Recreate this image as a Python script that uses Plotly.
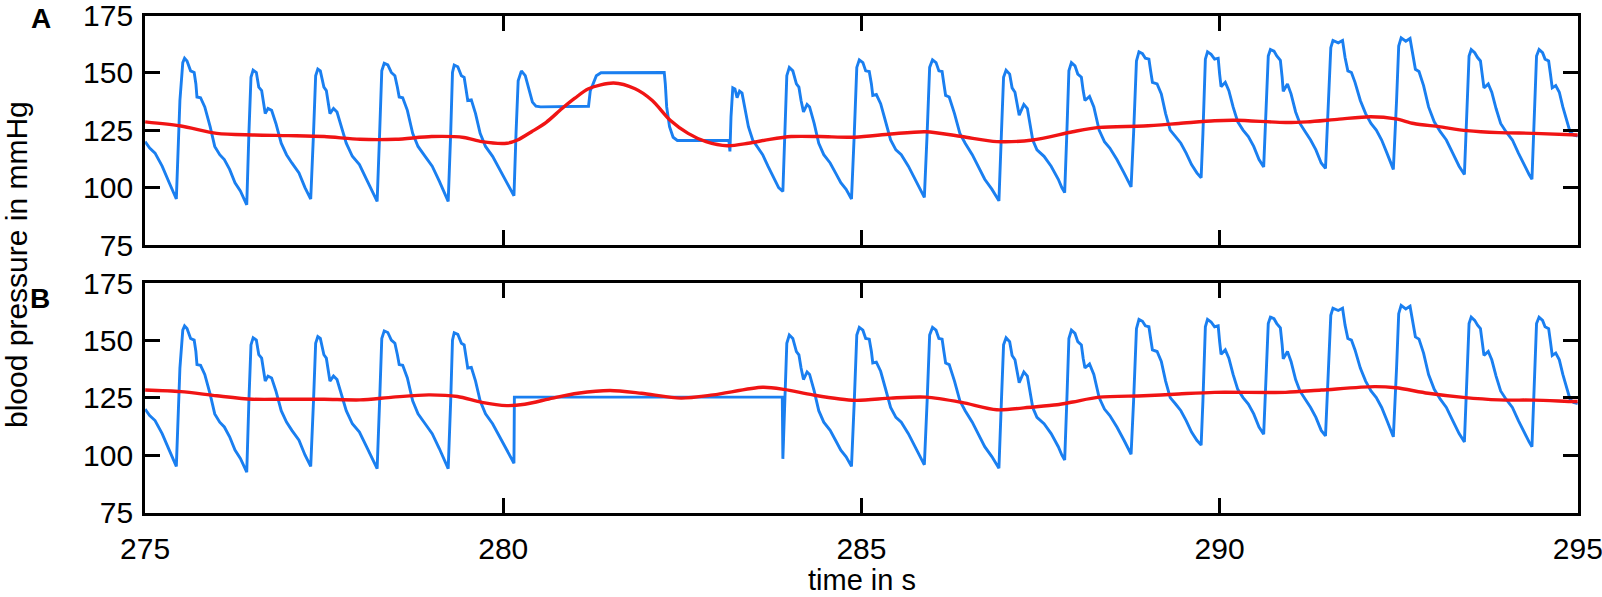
import plotly.graph_objects as go

# arterial pressure waveform, panel A (time in s, pressure in mmHg)
art_a = [
    (275.000, 120.1), (275.064, 117.3), (275.139, 115.1), (275.238, 109.4), (275.337, 102.2),
    (275.387, 98.6), (275.436, 95.1), (275.486, 138.0), (275.526, 154.5), (275.551, 156.4),
    (275.585, 155.2), (275.635, 150.9), (275.685, 150.2), (275.709, 145.2), (275.724, 139.5),
    (275.774, 139.2), (275.833, 135.2), (275.908, 126.6), (275.972, 118.0), (276.042, 114.4),
    (276.106, 112.3), (276.180, 108.0), (276.255, 102.2), (276.330, 98.6), (276.419, 92.6),
    (276.449, 123.7), (276.478, 148.1), (276.508, 151.2), (276.553, 150.2), (276.587, 143.8),
    (276.627, 142.3), (276.677, 132.3), (276.716, 134.5), (276.766, 133.7), (276.826, 128.0),
    (276.900, 119.4), (276.974, 114.4), (277.049, 110.8), (277.148, 106.5), (277.232, 100.1),
    (277.312, 95.1), (277.351, 123.7), (277.381, 148.8), (277.411, 151.7), (277.446, 150.9),
    (277.496, 143.8), (277.530, 142.3), (277.580, 132.3), (277.630, 134.5), (277.679, 133.0),
    (277.744, 126.6), (277.808, 119.4), (277.893, 113.7), (277.992, 110.1), (278.091, 103.7),
    (278.175, 98.6), (278.239, 94.1), (278.274, 123.7), (278.304, 150.9), (278.338, 154.2),
    (278.388, 153.5), (278.437, 150.2), (278.487, 148.8), (278.522, 143.8), (278.547, 139.5),
    (278.596, 139.2), (278.661, 133.7), (278.735, 123.7), (278.810, 118.0), (278.909, 113.7),
    (279.008, 109.4), (279.107, 102.9), (279.182, 97.9), (279.231, 94.1), (279.266, 123.7),
    (279.291, 150.2), (279.315, 153.4), (279.365, 152.7), (279.415, 148.8), (279.454, 148.1),
    (279.479, 143.1), (279.504, 138.0), (279.554, 138.3), (279.613, 132.3), (279.677, 123.7),
    (279.752, 118.0), (279.851, 113.7), (279.950, 108.0), (280.050, 102.2), (280.124, 97.9),
    (280.149, 96.5), (280.178, 123.7), (280.208, 146.6), (280.253, 150.9), (280.307, 148.8),
    (280.357, 143.1), (280.407, 137.3), (280.456, 135.5), (280.521, 135.2), (281.190, 135.5),
    (281.215, 142.3), (281.250, 144.9), (281.299, 148.8), (281.364, 150.1), (282.247, 150.2),
    (282.262, 145.2), (282.281, 135.2), (282.321, 126.6), (282.371, 122.0), (282.430, 120.6),
    (283.149, 120.6), (283.164, 115.8), (283.179, 130.9), (283.204, 143.5), (283.234, 143.0),
    (283.264, 139.2), (283.298, 142.1), (283.333, 141.2), (283.373, 134.5), (283.422, 126.6),
    (283.482, 120.8), (283.546, 118.0), (283.621, 114.4), (283.695, 109.4), (283.770, 104.4),
    (283.844, 100.1), (283.903, 98.4), (283.933, 123.7), (283.958, 148.8), (283.993, 152.4),
    (284.042, 150.9), (284.092, 145.2), (284.127, 143.8), (284.157, 138.0), (284.191, 133.0),
    (284.241, 136.3), (284.276, 135.2), (284.340, 128.0), (284.404, 119.4), (284.474, 114.4),
    (284.563, 110.8), (284.638, 106.5), (284.712, 102.2), (284.786, 99.3), (284.861, 95.1),
    (284.900, 123.7), (284.935, 152.4), (284.970, 155.7), (285.020, 154.5), (285.059, 150.9),
    (285.109, 150.6), (285.139, 145.2), (285.158, 140.2), (285.208, 140.6), (285.268, 136.6),
    (285.332, 129.4), (285.407, 120.8), (285.481, 116.5), (285.556, 114.4), (285.655, 109.4),
    (285.744, 103.7), (285.818, 99.3), (285.878, 95.8), (285.917, 123.7), (285.952, 152.4),
    (285.992, 155.7), (286.041, 154.5), (286.081, 150.9), (286.126, 150.6), (286.151, 145.2),
    (286.175, 140.2), (286.225, 139.5), (286.299, 132.3), (286.374, 123.7), (286.448, 119.4),
    (286.547, 114.4), (286.646, 108.0), (286.721, 103.7), (286.820, 99.4), (286.919, 94.3),
    (286.954, 123.7), (286.984, 148.1), (287.019, 151.2), (287.069, 149.5), (287.103, 143.5),
    (287.143, 141.6), (287.202, 131.6), (287.267, 136.3), (287.316, 134.5), (287.391, 120.8),
    (287.450, 116.5), (287.549, 113.7), (287.648, 109.4), (287.748, 103.7), (287.797, 100.1),
    (287.837, 97.9), (287.867, 123.7), (287.896, 150.9), (287.931, 154.5), (287.981, 153.1),
    (288.020, 149.5), (288.070, 148.1), (288.095, 142.3), (288.120, 138.0), (288.184, 139.8),
    (288.244, 135.2), (288.318, 125.1), (288.392, 120.1), (288.467, 117.3), (288.566, 112.3),
    (288.665, 106.5), (288.730, 102.2), (288.764, 100.4), (288.799, 123.7), (288.839, 155.2),
    (288.874, 159.2), (288.923, 158.4), (288.963, 156.4), (289.013, 156.0), (289.037, 150.9),
    (289.062, 145.9), (289.127, 145.2), (289.186, 140.9), (289.246, 132.3), (289.310, 125.1),
    (289.385, 122.3), (289.459, 119.4), (289.533, 115.1), (289.608, 110.1), (289.682, 106.5),
    (289.742, 104.4), (289.767, 123.7), (289.801, 156.0), (289.831, 159.2), (289.881, 158.1),
    (289.930, 156.0), (289.980, 156.4), (290.000, 149.5), (290.020, 144.0), (290.079, 145.9),
    (290.129, 142.3), (290.188, 135.2), (290.253, 128.7), (290.327, 125.1), (290.401, 122.3),
    (290.476, 118.0), (290.550, 112.3), (290.615, 109.1), (290.644, 130.9), (290.679, 157.4),
    (290.709, 160.2), (290.759, 159.5), (290.798, 157.4), (290.848, 155.5), (290.873, 148.1),
    (290.888, 142.0), (290.947, 145.2), (290.997, 140.9), (291.061, 133.0), (291.121, 128.0),
    (291.195, 124.4), (291.270, 120.8), (291.344, 116.5), (291.418, 110.8), (291.478, 108.4),
    (291.517, 138.0), (291.552, 161.0), (291.582, 164.1), (291.656, 163.1), (291.716, 164.1),
    (291.751, 156.7), (291.790, 150.9), (291.840, 150.2), (291.890, 145.9), (291.964, 138.0),
    (292.038, 132.3), (292.113, 128.0), (292.187, 125.1), (292.262, 120.8), (292.336, 115.1),
    (292.386, 110.8), (292.425, 108.0), (292.470, 138.0), (292.500, 161.7), (292.534, 165.3),
    (292.599, 163.8), (292.658, 165.0), (292.698, 158.1), (292.733, 151.6), (292.783, 150.6),
    (292.847, 144.5), (292.917, 135.2), (292.996, 128.7), (293.080, 124.4), (293.165, 120.8),
    (293.254, 115.1), (293.343, 109.4), (293.417, 105.8), (293.452, 133.7), (293.482, 157.4),
    (293.512, 160.2), (293.561, 158.8), (293.601, 156.7), (293.641, 155.2), (293.665, 149.5),
    (293.690, 143.5), (293.750, 145.2), (293.799, 141.6), (293.859, 134.5), (293.923, 128.0),
    (293.998, 124.4), (294.087, 120.8), (294.171, 115.1), (294.256, 109.4), (294.320, 105.8),
    (294.360, 103.7), (294.394, 133.7), (294.424, 157.4), (294.459, 160.2), (294.508, 158.8),
    (294.543, 156.0), (294.593, 155.2), (294.618, 149.5), (294.643, 143.5), (294.692, 144.5),
    (294.742, 141.6), (294.791, 135.2), (294.841, 129.4), (294.891, 124.4), (294.940, 123.0),
    (295.000, 122.5),
]

# panel B: flat segment that replaces the disturbed part of the recording
gap_start_b = 280.149
gap_end_b = 283.903
gap_b = [(280.155, 125.3), (283.895, 125.3)]

# moving mean pressure (red)
mean_a = [
    (275.0, 128.7), (275.5, 126.9), (276.0, 123.7), (276.5, 123.0), (277.0, 122.7),
    (277.5, 122.3), (278.0, 121.1), (278.5, 121.1), (279.0, 122.3), (279.45, 121.9),
    (279.7, 120.1), (280.05, 119.4), (280.2, 120.8), (280.4, 124.5), (280.6, 128.5),
    (280.82, 134.5), (281.0, 139.0), (281.19, 143.1), (281.54, 145.6), (281.84, 143.1),
    (282.08, 138.0), (282.33, 129.4), (282.58, 123.7), (282.83, 120.1), (283.13, 118.3),
    (283.42, 119.4), (283.72, 121.1), (284.02, 122.3), (284.42, 122.3), (284.91, 122.0),
    (285.41, 123.4), (285.9, 124.4), (286.4, 122.3), (286.89, 120.1), (287.39, 120.8),
    (287.95, 124.4), (288.32, 126.3), (288.94, 126.9), (289.43, 128.0), (289.93, 129.2),
    (290.23, 129.4), (290.92, 128.4), (291.22, 128.7), (291.67, 129.9), (292.11, 130.9),
    (292.46, 130.0), (292.71, 128.0), (293.06, 126.6), (293.45, 124.9), (293.9, 124.0),
    (294.39, 123.7), (295.0, 123.0),
]
mean_b = [
    (275.0, 128.4), (275.5, 127.7), (276.0, 125.9), (276.5, 124.4), (277.0, 124.4),
    (277.5, 124.4), (278.0, 124.1), (278.46, 125.3), (278.96, 126.3), (279.36, 125.6),
    (279.7, 123.0), (280.05, 121.6), (280.3, 122.2), (280.69, 124.9), (281.04, 127.0),
    (281.49, 128.2), (281.93, 127.0), (282.48, 124.9), (282.93, 126.3), (283.62, 129.6),
    (283.92, 128.7), (284.32, 126.3), (284.91, 123.9), (285.41, 124.9), (285.9, 125.3),
    (286.4, 123.0), (286.89, 119.8), (287.39, 121.0), (287.73, 122.0), (287.95, 123.2),
    (288.32, 125.3), (288.94, 125.9), (289.43, 126.7), (289.93, 127.4), (290.92, 127.4),
    (291.42, 128.4), (292.16, 129.9), (292.46, 129.4), (292.91, 127.0), (293.4, 125.2),
    (293.9, 124.1), (294.39, 124.0), (294.94, 123.4), (295.0, 123.4),
]

x_ticks = [275, 280, 285, 290, 295]
y_ticks = [75, 100, 125, 150, 175]

BLUE = "#1a7ff0"
RED = "#f01414"
FONT = "Liberation Sans, Arial, sans-serif"

art_b = ([p for p in art_a if p[0] <= gap_start_b] + gap_b
         + [p for p in art_a if p[0] >= gap_end_b])

fig = go.Figure()
for pts, mean, xa, ya in [(art_a, mean_a, "x", "y"), (art_b, mean_b, "x2", "y2")]:
    t, p = zip(*pts)
    fig.add_trace(go.Scatter(x=t, y=p, mode="lines", xaxis=xa, yaxis=ya,
                             line=dict(color=BLUE, width=2.9)))
    tm, pm = zip(*mean)
    fig.add_trace(go.Scatter(x=tm, y=pm, mode="lines", xaxis=xa, yaxis=ya,
                             line=dict(color=RED, width=3.4, shape="spline", smoothing=0.8)))

W, H = 1602, 597
# frame lines are drawn just outside the domain, so domains sit 1.5 px inside them
x_dom = [145.1 / W, 1577.8 / W]
axis_common = dict(showline=True, linewidth=3, linecolor="black", mirror="allticks",
                   ticks="inside", ticklen=15, tickwidth=3, tickcolor="black",
                   showgrid=False, zeroline=False, automargin=False,
                   ticklabeloverflow="allow",
                   tickfont=dict(family=FONT, size=30, color="black"))


def label(text, x, y, size=30, angle=0):
    return dict(text=text, x=x / W, y=1 - y / H, xref="paper", yref="paper",
                xanchor="center", yanchor="middle", textangle=angle, showarrow=False,
                font=dict(family=FONT, size=size, color="black"))


fig.update_layout(
    width=W, height=H,
    margin=dict(l=0, r=0, t=0, b=0),
    paper_bgcolor="white", plot_bgcolor="white",
    showlegend=False,
    xaxis=dict(domain=x_dom, range=[275, 295], tickvals=x_ticks, anchor="y",
               showticklabels=False, **axis_common),
    yaxis=dict(domain=[1 - 245.2 / H, 1 - 15.5 / H], range=[75, 175], tickvals=y_ticks,
               anchor="x", ticklabelstandoff=3, **axis_common),
    xaxis2=dict(domain=x_dom, range=[275, 295], tickvals=x_ticks, anchor="y2",
                ticklabelstandoff=7, **axis_common),
    yaxis2=dict(domain=[1 - 512.5 / H, 1 - 283.2 / H], range=[75, 175], tickvals=y_ticks,
                anchor="x2", ticklabelstandoff=3, **axis_common),
    annotations=[
        label("<b>A</b>", 41, 18, size=28),
        label("<b>B</b>", 40, 298, size=28),
        label("blood pressure in mmHg", 16, 265, angle=-90),
        label("time in s", 861.5, 580, size=29),
    ],
)

# the page body has an 8 px default margin; drop it so the figure sits at the corner
fig.write_html("out.html", config={"displayModeBar": False},
               post_script="document.body.style.margin = '0';")
